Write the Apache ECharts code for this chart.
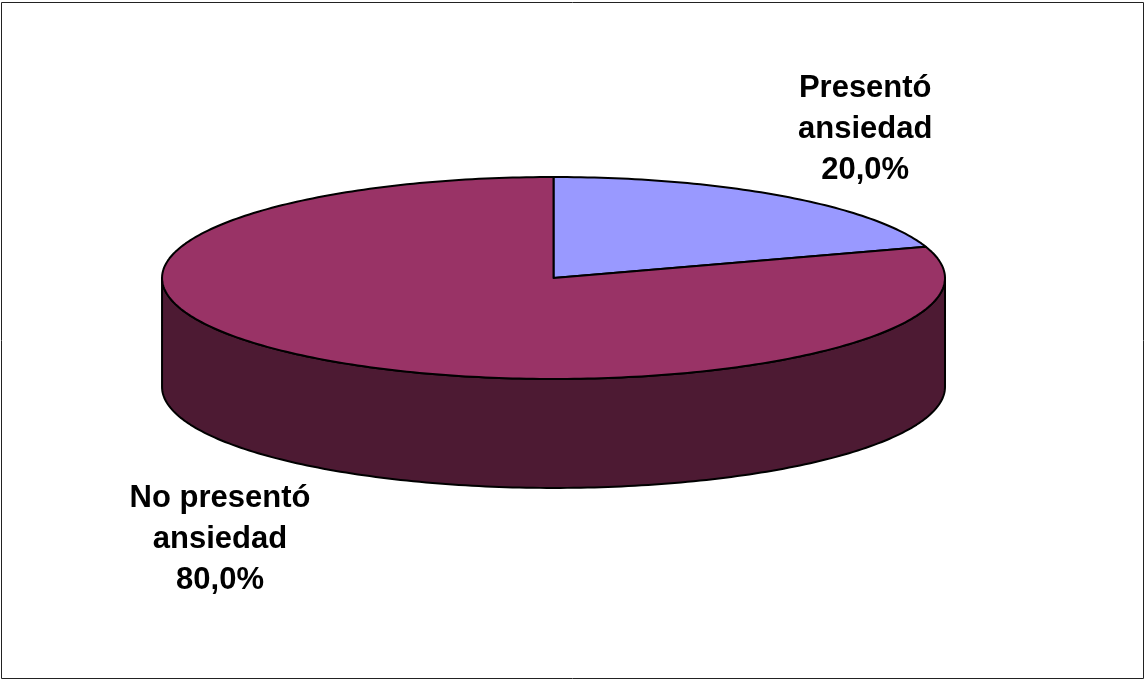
<!DOCTYPE html>
<html>
<head>
<meta charset="utf-8">
<style>
  html, body { margin: 0; padding: 0; background: #fff; }
  #chart { width: 1146px; height: 681px; }
</style>
<script src="https://cdn.jsdelivr.net/npm/echarts@6/dist/echarts.min.js"></script>
</head>
<body>
<div id="chart"></div>
<script>
// Ansiedad: share of respondents
const categories = ['Presentó ansiedad', 'No presentó ansiedad'];
const labelLines = [['Presentó', 'ansiedad'], ['No presentó', 'ansiedad']];
const values = [20, 80];
const sliceColors = ['#9999FF', '#993366'];
const sideColors = ['#4D4D80', '#4D1A33'];

const total = values.reduce((a, b) => a + b, 0);
const fmtPct = v => (v / total * 100).toFixed(1).replace('.', ',') + '%';

// Label anchor points (fractions of the canvas)
const labelPos = [[0.755, 0.190], [0.192, 0.792]];

const chart = echarts.init(document.getElementById('chart'));

function ellipsePoint(g, deg, dy) {
  const t = deg * Math.PI / 180;
  return [g.cx + g.rx * Math.sin(t), g.cy - g.ry * Math.cos(t) + (dy || 0)];
}

function renderItem(params, api) {
  const W = api.getWidth(), H = api.getHeight();
  const g = { cx: W * 0.4830, cy: H * 0.4082, rx: W * 0.3416, ry: H * 0.1483, depth: H * 0.160 };
  const i = params.dataIndex;
  let before = 0;
  for (let k = 0; k < i; k++) before += values[k];
  const v = api.value(0);
  const start = before / total * 360;
  const end = (before + v) / total * 360;
  const children = [];

  // front wall: the part of the arc facing the viewer (90°..270° clockwise from top)
  const a = Math.max(start, 90), b = Math.min(end, 270);
  if (b > a) {
    const pts = [];
    const n = Math.max(8, Math.ceil((b - a) / 1));
    for (let s = 0; s <= n; s++) pts.push(ellipsePoint(g, a + (b - a) * s / n, 0));
    for (let s = n; s >= 0; s--) pts.push(ellipsePoint(g, a + (b - a) * s / n, g.depth));
    children.push({
      type: 'polygon', z2: 1,
      shape: { points: pts },
      style: { fill: sideColors[i], stroke: '#000', lineWidth: 2, lineJoin: 'round' }
    });
  }

  // top face
  const top = [[g.cx, g.cy]];
  const n2 = Math.max(8, Math.ceil(end - start));
  for (let s = 0; s <= n2; s++) top.push(ellipsePoint(g, start + (end - start) * s / n2, 0));
  children.push({
    type: 'polygon', z2: 10,
    shape: { points: top },
    style: { fill: sliceColors[i], stroke: '#000', lineWidth: 2, lineJoin: 'round' }
  });

  // label
  children.push({
    type: 'text', z2: 20,
    x: W * labelPos[i][0], y: H * labelPos[i][1],
    style: {
      text: labelLines[i].join('\n') + '\n' + fmtPct(v),
      fontFamily: 'Liberation Sans, Arial, sans-serif',
      fontWeight: 'bold', fontSize: 31, lineHeight: 41,
      fill: '#000', align: 'center', verticalAlign: 'middle'
    }
  });

  return { type: 'group', children };
}

chart.setOption({
  animation: false,
  backgroundColor: '#fff',
  graphic: [{
    type: 'rect', silent: true,
    shape: { x: 1.5, y: 2.5, width: 1142, height: 676 },
    style: { fill: 'none', stroke: '#222', lineWidth: 1 }
  }],
  series: [{
    type: 'custom',
    coordinateSystem: 'none',
    renderItem: renderItem,
    data: values.map((v, i) => ({ name: categories[i], value: [v] }))
  }]
});
</script>
</body>
</html>
